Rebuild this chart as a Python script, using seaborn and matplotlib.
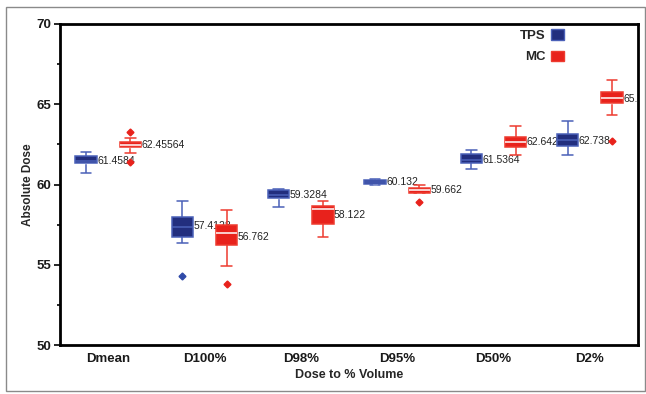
import numpy as np
import pandas as pd
import matplotlib
matplotlib.use("Agg")
import matplotlib.pyplot as plt
from matplotlib.patches import Patch, Rectangle
from matplotlib.ticker import MultipleLocator
import seaborn as sns

# Categorias y grupos
metrics = ["Dmean", "D100%", "D98%", "D95%", "D50%", "D2%"]
sources = ["TPS", "MC"]

# Valores (9 puntos por caja)
tps_vals = {
    "Dmean": [60.70, 61.20, 61.31, 61.40, 61.45, 61.55, 61.75, 61.85, 62.04],
    "D100%": [54.31, 56.35, 56.75, 57.10, 57.35, 57.60, 57.98, 58.40, 58.96],
    "D98%":  [58.58, 59.00, 59.17, 59.25, 59.33, 59.45, 59.63, 59.66, 59.69],
    "D95%":  [59.98, 60.00, 60.02, 60.08, 60.13, 60.20, 60.27, 60.32, 60.37],
    "D50%":  [60.98, 61.20, 61.31, 61.45, 61.54, 61.65, 61.87, 62.00, 62.15],
    "D2%":   [61.81, 62.20, 62.40, 62.60, 62.75, 62.90, 63.13, 63.50, 63.96],
}
mc_vals = {
    "Dmean": [61.42, 61.98, 62.33, 62.40, 62.45, 62.55, 62.67, 62.92, 63.27],
    "D100%": [53.81, 54.90, 56.25, 56.70, 57.00, 57.20, 57.46, 57.90, 58.40],
    "D98%":  [56.73, 57.30, 57.56, 58.20, 58.45, 58.55, 58.69, 58.85, 58.98],
    "D95%":  [58.94, 59.45, 59.50, 59.60, 59.66, 59.72, 59.80, 59.90, 59.98],
    "D50%":  [61.81, 62.10, 62.31, 62.55, 62.65, 62.80, 62.98, 63.30, 63.65],
    "D2%":   [62.70, 64.31, 65.06, 65.25, 65.40, 65.55, 65.77, 66.10, 66.52],
}

# Etiquetas junto a cada caja
tps_labels = ["61.4584", "57.4128", "59.3284", "60.132", "61.5364", "62.738"]
mc_labels = ["62.45564", "56.762", "58.122", "59.662", "62.6428", "65.3524"]
tps_label_y = [61.46, 57.41, 59.33, 60.13, 61.54, 62.74]
mc_label_y = [62.46, 56.76, 58.12, 59.66, 62.64, 65.35]

rows = []
for m in metrics:
    for v in tps_vals[m]:
        rows.append({"Metrica": m, "Fuente": "TPS", "Dosis": v})
    for v in mc_vals[m]:
        rows.append({"Metrica": m, "Fuente": "MC", "Dosis": v})
df = pd.DataFrame(rows)

tps_face, tps_edge = "#222e7e", "#4a60b8"
mc_face, mc_edge = "#e8221c", "#ee3b2f"

sns.set_style("ticks")
plt.rcParams["font.family"] = ["Liberation Sans", "DejaVu Sans"]

fig = plt.figure(figsize=(6.46, 3.94), dpi=100)
ax = fig.add_axes([60 / 646, 49 / 394, 578 / 646, 321 / 394])

sns.boxplot(data=df, x="Metrica", y="Dosis", hue="Fuente", order=metrics,
            hue_order=sources, palette=[tps_face, mc_face], width=0.92,
            gap=0.52, whis=1.5, showmeans=True, ax=ax, legend=False,
            meanprops=dict(marker="s", markerfacecolor="white",
                           markeredgecolor="white", markersize=2.5),
            flierprops=dict(marker="D", markersize=3.5),
            linewidth=1.1)

# colores por grupo
for cont, face, edge, med in zip(ax.containers, [tps_face, mc_face],
                                 [tps_edge, mc_edge], ["#4a60b8", "white"]):
    for b in cont.boxes:
        b.set_facecolor(face)
        b.set_edgecolor(edge)
        b.set_zorder(3)
    for ln in list(cont.whiskers) + list(cont.caps):
        ln.set_color(edge)
    for ln in cont.medians:
        ln.set_color(med)
        ln.set_zorder(4)
    for ln in cont.fliers:
        ln.set_markerfacecolor(face if face == mc_face else "#2f4aa8")
        ln.set_markeredgecolor(face if face == mc_face else "#2f4aa8")

# textos de valores
for i in range(len(metrics)):
    ax.text(i - 0.23 + 0.115, tps_label_y[i], tps_labels[i], fontsize=7.5,
            color="#222222", va="center", ha="left", zorder=1, clip_on=True)
    ax.text(i + 0.23 + 0.115, mc_label_y[i], mc_labels[i], fontsize=7.5,
            color="#222222", va="center", ha="left", zorder=1, clip_on=True)

ax.set_ylim(50, 70)
ax.set_xlim(-0.5, 5.5)
ax.yaxis.set_major_locator(MultipleLocator(5))
ax.yaxis.set_minor_locator(MultipleLocator(2.5))
ax.tick_params(axis="y", which="major", length=4, width=1.4, labelsize=9.5,
               pad=2)
ax.tick_params(axis="y", which="minor", length=2.5, width=1.4)
ax.tick_params(axis="x", length=0, labelsize=9.5, pad=6)
for lab in ax.get_xticklabels() + ax.get_yticklabels():
    lab.set_fontweight("bold")
    lab.set_color("#1a1a1a")
for s in ax.spines.values():
    s.set_visible(True)
    s.set_linewidth(2)
    s.set_color("black")

ax.set_xlabel("Dose to % Volume", fontsize=9, fontweight="bold", labelpad=3)
ax.set_ylabel("Absolute Dose", fontsize=8.5, fontweight="bold", labelpad=2)

handles = [Patch(facecolor=tps_face, edgecolor=tps_edge, label="TPS"),
           Patch(facecolor=mc_face, edgecolor=mc_edge, label="MC")]
ax.legend(handles=handles, loc="upper right", bbox_to_anchor=(0.893, 1.02),
          frameon=False, markerfirst=False, handlelength=1.0,
          handleheight=0.8, handletextpad=0.4, labelspacing=0.65,
          prop=dict(weight="bold", size=9.5))

# marco exterior gris
fig.patches.append(Rectangle((6 / 646, 3 / 394), 639 / 646, 384 / 394,
                             transform=fig.transFigure, fill=False,
                             edgecolor="#8a8a8a", linewidth=1))

fig.savefig("out.png", dpi=100)
